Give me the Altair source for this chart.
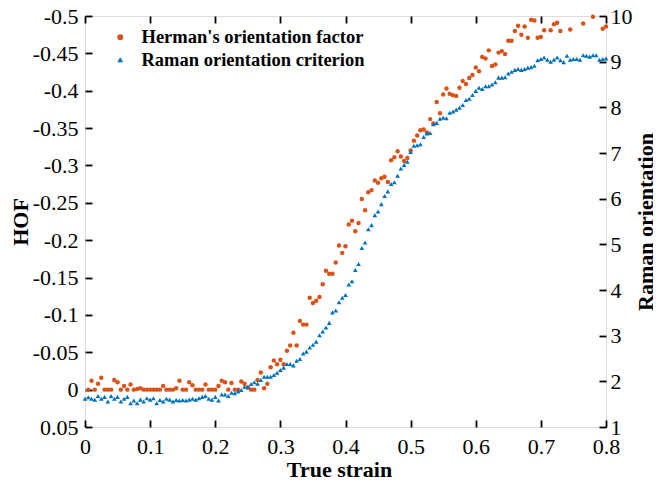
import altair as alt
import pandas as pd

# ---- data ----
hof_strain = [
    0.005, 0.01, 0.015, 0.02, 0.025, 0.03, 0.035, 0.04, 0.045, 0.05,
    0.055, 0.06, 0.065, 0.07, 0.075, 0.08, 0.085, 0.09, 0.095, 0.1,
    0.105, 0.11, 0.115, 0.12, 0.125, 0.13, 0.135, 0.14, 0.145, 0.15,
    0.155, 0.16, 0.165, 0.17, 0.175, 0.18, 0.185, 0.19, 0.195, 0.2,
    0.205, 0.21, 0.215, 0.22, 0.225, 0.23, 0.235, 0.24, 0.245, 0.25,
    0.255, 0.26, 0.265, 0.27, 0.275, 0.28, 0.285, 0.29, 0.295, 0.3,
    0.305, 0.31, 0.315, 0.32, 0.325, 0.33, 0.335, 0.34, 0.345, 0.35,
    0.355, 0.36, 0.365, 0.37, 0.375, 0.38, 0.385, 0.39, 0.395, 0.4,
    0.405, 0.41, 0.415, 0.42, 0.425, 0.43, 0.435, 0.44, 0.445, 0.45,
    0.455, 0.46, 0.465, 0.47, 0.475, 0.48, 0.485, 0.49, 0.495, 0.5,
    0.505, 0.51, 0.515, 0.52, 0.525, 0.53, 0.535, 0.54, 0.545, 0.55,
    0.555, 0.56, 0.565, 0.57, 0.575, 0.58, 0.585, 0.59, 0.595, 0.6,
    0.605, 0.61, 0.615, 0.62, 0.625, 0.63, 0.635, 0.64, 0.645, 0.65,
    0.655, 0.66, 0.665, 0.67, 0.675, 0.68, 0.685, 0.69, 0.695, 0.7,
    0.705, 0.715, 0.72, 0.725, 0.73, 0.745, 0.765, 0.78, 0.795, 0.8,
]
hof_values = [
    0, -0.012, 0, -0.008, -0.016, 0, 0, 0, -0.013, -0.01,
    0, -0.005, 0, -0.007, 0, -0.001, -0.002, 0, 0, 0,
    0, 0, 0, -0.005, 0, 0, 0, -0.002, -0.012, 0,
    0, -0.01, -0.006, 0, 0, 0, -0.007, 0, 0, 0,
    -0.005, -0.012, -0.01, 0, -0.009, 0, 0, -0.011, -0.008, -0.003,
    0, 0, -0.013, -0.023, -0.002, -0.008, -0.03, -0.039, -0.034, -0.04,
    -0.034, -0.052, -0.059, -0.076, -0.059, -0.092, -0.087, -0.087, -0.123, -0.116,
    -0.119, -0.124, -0.141, -0.159, -0.155, -0.155, -0.17, -0.193, -0.183, -0.192,
    -0.221, -0.226, -0.212, -0.223, -0.255, -0.24, -0.264, -0.267, -0.28, -0.277,
    -0.283, -0.285, -0.278, -0.307, -0.311, -0.319, -0.312, -0.306, -0.31, -0.32,
    -0.333, -0.34, -0.347, -0.348, -0.344, -0.362, -0.356, -0.385, -0.37, -0.395,
    -0.403, -0.396, -0.394, -0.393, -0.404, -0.413, -0.409, -0.417, -0.421, -0.431,
    -0.426, -0.445, -0.443, -0.454, -0.433, -0.435, -0.451, -0.453, -0.449, -0.467,
    -0.467, -0.48, -0.487, -0.475, -0.486, -0.471, -0.495, -0.494, -0.471, -0.472,
    -0.481, -0.481, -0.489, -0.491, -0.48, -0.482, -0.49, -0.499, -0.483, -0.486,
]

raman_strain = [
    0.0, 0.005, 0.01, 0.015, 0.02, 0.025, 0.03, 0.035, 0.04, 0.045,
    0.05, 0.055, 0.06, 0.065, 0.07, 0.075, 0.08, 0.085, 0.09, 0.095,
    0.1, 0.105, 0.11, 0.115, 0.12, 0.125, 0.13, 0.135, 0.14, 0.145,
    0.15, 0.155, 0.16, 0.165, 0.17, 0.175, 0.18, 0.185, 0.19, 0.195,
    0.2, 0.205, 0.21, 0.215, 0.22, 0.225, 0.23, 0.235, 0.24, 0.245,
    0.25, 0.255, 0.26, 0.265, 0.27, 0.275, 0.28, 0.285, 0.29, 0.295,
    0.3, 0.305, 0.31, 0.315, 0.32, 0.325, 0.33, 0.335, 0.34, 0.345,
    0.35, 0.355, 0.36, 0.365, 0.37, 0.375, 0.38, 0.385, 0.39, 0.395,
    0.4, 0.405, 0.41, 0.415, 0.42, 0.425, 0.43, 0.435, 0.44, 0.445,
    0.45, 0.455, 0.46, 0.465, 0.47, 0.475, 0.48, 0.485, 0.49, 0.495,
    0.5, 0.505, 0.51, 0.515, 0.52, 0.525, 0.53, 0.535, 0.54, 0.545,
    0.55, 0.555, 0.56, 0.565, 0.57, 0.575, 0.58, 0.585, 0.59, 0.595,
    0.6, 0.605, 0.61, 0.615, 0.62, 0.625, 0.63, 0.635, 0.64, 0.645,
    0.65, 0.655, 0.66, 0.665, 0.67, 0.675, 0.68, 0.685, 0.69, 0.695,
    0.7, 0.705, 0.71, 0.715, 0.72, 0.725, 0.73, 0.735, 0.74, 0.745,
    0.75, 0.755, 0.76, 0.765, 0.77, 0.775, 0.78, 0.785, 0.79, 0.795, 0.8,
]
raman_values = [
    1.62, 1.65, 1.62, 1.60, 1.68, 1.62, 1.66, 1.56, 1.68, 1.62,
    1.66, 1.56, 1.62, 1.66, 1.52, 1.58, 1.52, 1.60, 1.56, 1.63,
    1.60, 1.63, 1.52, 1.59, 1.56, 1.62, 1.60, 1.56, 1.59, 1.58,
    1.59, 1.58, 1.60, 1.62, 1.60, 1.63, 1.66, 1.68, 1.62, 1.60,
    1.66, 1.58, 1.71, 1.71, 1.68, 1.75, 1.74, 1.78, 1.81, 1.88,
    1.87, 1.94, 1.98, 1.95, 2.03, 2.10, 2.10, 2.10, 2.14, 2.19,
    2.25, 2.30, 2.38, 2.38, 2.35, 2.45, 2.49, 2.61, 2.65, 2.74,
    2.80, 2.87, 3.01, 3.09, 3.18, 3.28, 3.51, 3.55, 3.73, 3.83,
    3.89, 4.12, 4.19, 4.44, 4.57, 4.92, 5.04, 5.33, 5.42, 5.64,
    5.72, 5.88, 6.06, 6.16, 6.32, 6.36, 6.50, 6.66, 6.74, 6.81,
    7.02, 7.16, 7.17, 7.19, 7.35, 7.43, 7.44, 7.63, 7.66, 7.75,
    7.77, 7.76, 7.88, 7.91, 7.95, 7.99, 8.05, 8.16, 8.19, 8.27,
    8.36, 8.43, 8.40, 8.46, 8.46, 8.50, 8.55, 8.65, 8.65, 8.66,
    8.74, 8.78, 8.82, 8.84, 8.82, 8.84, 8.87, 8.88, 8.91, 9.03,
    9.06, 9.09, 9.04, 9.00, 9.04, 9.09, 9.03, 8.99, 9.13, 9.04,
    9.06, 9.06, 9.04, 9.14, 9.13, 9.11, 9.14, 9.14, 9.04, 9.06, 9.07,
]

series_names = ["Herman's orientation factor", "Raman orientation criterion"]
series_colors = ["#D95319", "#0072BD"]
series_shapes = ["circle", "triangle-up"]

strain_ticks = [0, 0.1, 0.2, 0.3, 0.4, 0.5, 0.6, 0.7, 0.8]
hof_ticks = [-0.5, -0.45, -0.4, -0.35, -0.3, -0.25, -0.2, -0.15, -0.1, -0.05, 0, 0.05]
raman_ticks = [1, 2, 3, 4, 5, 6, 7, 8, 9, 10]

df_h = pd.DataFrame({"strain": hof_strain, "value": hof_values, "series": series_names[0]})
df_r = pd.DataFrame({"strain": raman_strain, "value": raman_values, "series": series_names[1]})

FONT = "Liberation Serif"
common_axis = dict(
    domain=False, grid=False, tickSize=7, tickWidth=1.8, tickColor="black",
    offset=-7, labelFont=FONT, labelFontSize=22, labelColor="black",
    titleFont=FONT, titleFontSize=22, titleFontWeight="bold", titleColor="black",
    labelOverlap=False, labelFlush=False, labelBound=False,
)

legend = alt.Legend(
    title=None, orient="none", legendX=26, legendY=12,
    labelFont=FONT, labelFontSize=18.5, labelFontWeight="bold", labelColor="black",
    labelLimit=0, symbolSize=36, symbolStrokeWidth=0, labelOffset=12,
    rowPadding=3.5, padding=0,
)

color = alt.Color("series:N", scale=alt.Scale(domain=series_names, range=series_colors), legend=legend)
shape = alt.Shape("series:N", scale=alt.Scale(domain=series_names, range=series_shapes), legend=legend)

xscale = alt.Scale(domain=[0, 0.8], nice=False, zero=False)

hof_layer = alt.Chart(df_h).mark_point(filled=True, size=20, opacity=1).encode(
    x=alt.X("strain:Q", scale=xscale,
            axis=alt.Axis(values=strain_ticks, title="True strain", labelPadding=9,
                          titlePadding=2, titleX=254,
                          labelExpr="format(datum.value, '.1~f')", **common_axis)),
    y=alt.Y("value:Q", scale=alt.Scale(domain=[-0.5, 0.05], reverse=True, nice=False, zero=False),
            axis=alt.Axis(values=hof_ticks, title="HOF", labelPadding=7, titlePadding=0,
                          labelExpr="replace(format(datum.value, '.2~f'), '\u2212', '-')", **common_axis)),
    color=color,
    shape=shape,
)

raman_layer = alt.Chart(df_r).mark_point(filled=True, size=22, opacity=1).encode(
    x=alt.X("strain:Q", scale=xscale,
            axis=alt.Axis(orient="top", values=strain_ticks, title=None, labels=False, **common_axis)),
    y=alt.Y("value:Q", scale=alt.Scale(domain=[1, 10], nice=False, zero=False),
            axis=alt.Axis(orient="right", values=raman_ticks, title="Raman orientation",
                          titleAngle=270, titleBaseline="top", labelPadding=4, titlePadding=3,
                          **common_axis)),
    color=color,
    shape=shape,
)

chart = alt.layer(hof_layer, raman_layer).resolve_scale(
    y="independent"
).resolve_axis(
    x="independent", y="independent"
).properties(
    width=521, height=411,
    autosize=alt.AutoSizeParams(type="none"),
    padding={"left": 77, "top": 8, "right": 47, "bottom": 51},
).configure_view(
    stroke="black", strokeWidth=2
).configure(background="white")

chart.save("out.html", embed_options={"renderer": "svg", "actions": False})
